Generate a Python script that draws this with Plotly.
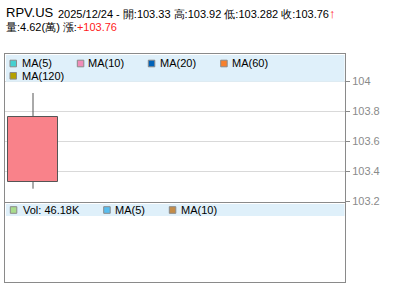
import plotly.graph_objects as go

# ---- data ----
symbol = "RPV.US"
date = "2025/12/24"
open_p = 103.33
high_p = 103.92
low_p = 103.282
close_p = 103.76
vol_wan = 4.62
change = "+103.76"
vol_label = "46.18K"
x_idx = [0]
ma_labels = ["MA(5)", "MA(10)", "MA(20)", "MA(60)", "MA(120)"]
vol_legend_labels = ["Vol: " + vol_label, "MA(5)", "MA(10)"]
price_ticks = [103.2, 103.4, 103.6, 103.8, 104.0]
price_tick_text = ["103.2", "103.4", "103.6", "103.8", "104"]

# ---- layout helpers (pixel -> paper) ----
W, H = 400, 301
ML, MR, MT, MB = 5, 55, 54, 19
PW, PH = W - ML - MR, H - MT - MB


def px(x):
    return (x - ML) / PW


def py(y):
    return (H - MB - y) / PH


FONT = "Liberation Sans, Arial, sans-serif"
BORDER = "#8a8a8a"
FS = 11

fig = go.Figure()

# wick (two segments so the body covers nothing)
fig.add_trace(go.Scatter(
    x=[x_idx[0], x_idx[0], None, x_idx[0], x_idx[0]],
    y=[max(open_p, close_p), high_p, None, min(open_p, close_p), low_p],
    mode="lines", line=dict(color="#555555", width=1),
    hoverinfo="skip", showlegend=False, xaxis="x", yaxis="y"))
# body
fig.add_trace(go.Bar(
    x=x_idx, y=[close_p - open_p], base=[open_p], width=1.0,
    marker=dict(color="#f9828a", line=dict(color="#555555", width=1)),
    hoverinfo="skip", showlegend=False, xaxis="x", yaxis="y"))
# volume panel placeholder (empty)
fig.add_trace(go.Scatter(x=x_idx, y=[0], mode="markers",
                         marker=dict(opacity=0), hoverinfo="skip",
                         showlegend=False, xaxis="x2", yaxis="y2"))

main_top, main_bot = 54, 202
vol_top, vol_bot = 203, 282
y_per_px = 1 / 150.0
yr = [104.0 - (main_bot - 81) * y_per_px, 104.0 + (81 - main_top) * y_per_px]
xr = [-0.56, -0.56 + PW / 50.0]

fig.update_layout(
    width=W, height=H, margin=dict(l=ML, r=MR, t=MT, b=MB),
    paper_bgcolor="white", plot_bgcolor="white",
    font=dict(family=FONT, size=FS, color="black"),
    showlegend=False, bargap=0,
    xaxis=dict(domain=[0, 1], range=xr, showgrid=False, zeroline=False,
               showticklabels=False, ticks="", showline=True, mirror=True,
               linecolor=BORDER, linewidth=1, anchor="y", fixedrange=True),
    yaxis=dict(domain=[py(main_bot), py(main_top)], range=yr, side="right",
               tickvals=price_ticks, ticktext=price_tick_text,
               ticks="outside", ticklen=4, tickcolor=BORDER,
               tickfont=dict(color="#8a8a8a", size=FS, family=FONT),
               showgrid=True, gridcolor="#d9d9d9", gridwidth=1,
               zeroline=False, showline=True, mirror=True,
               linecolor=BORDER, linewidth=1, anchor="x", fixedrange=True),
    xaxis2=dict(domain=[0, 1], range=xr, showgrid=False, zeroline=False,
                showticklabels=False, ticks="", showline=True, mirror=True,
                linecolor=BORDER, linewidth=1, anchor="y2", fixedrange=True),
    yaxis2=dict(domain=[py(vol_bot), py(vol_top)], range=[1, 2],
                showgrid=False, zeroline=False, showticklabels=False,
                ticks="", showline=True, mirror=True, linecolor=BORDER,
                linewidth=1, anchor="x2", fixedrange=True),
)

shapes = []
annotations = []

# legend bands
shapes.append(dict(type="rect", xref="paper", yref="paper", layer="above",
                   x0=px(6), x1=px(344.5), y0=py(55), y1=py(81.7),
                   fillcolor="#dff0fa", line=dict(width=0)))
shapes.append(dict(type="rect", xref="paper", yref="paper", layer="above",
                   x0=px(6), x1=px(344.5), y0=py(204), y1=py(216),
                   fillcolor="#dff0fa", line=dict(width=0)))

ma_colors = ["#44d0d0", "#f08cb8", "#0062b8", "#f8802c", "#b4a000"]
ma_sq_x = [10, 77.3, 148.3, 220.7, 10]
ma_txt_x = [21, 87, 159, 231, 21]
ma_y = [63.5, 63.5, 63.5, 63.5, 75.8]
for lab, c, sx, tx, yy in zip(ma_labels, ma_colors, ma_sq_x, ma_txt_x, ma_y):
    shapes.append(dict(type="rect", xref="paper", yref="paper", layer="above",
                       x0=px(sx), x1=px(sx + 6.5), y0=py(yy - 3.3), y1=py(yy + 3.3),
                       fillcolor=c, line=dict(color=BORDER, width=1)))
    annotations.append(dict(text=lab, xref="paper", yref="paper",
                            x=px(tx - 1), y=py(yy), xanchor="left", yanchor="middle",
                            showarrow=False, font=dict(size=FS, color="black", family=FONT)))

vol_colors = ["#a8dc8c", "#58bef0", "#c48c48"]
vol_sq_x = [10.3, 103.7, 169.3]
vol_txt_x = [22, 114, 180]
for lab, c, sx, tx in zip(vol_legend_labels, vol_colors, vol_sq_x, vol_txt_x):
    yy = 210
    shapes.append(dict(type="rect", xref="paper", yref="paper", layer="above",
                       x0=px(sx), x1=px(sx + 6.5), y0=py(yy - 3.3), y1=py(yy + 3.3),
                       fillcolor=c, line=dict(color=BORDER, width=1)))
    annotations.append(dict(text=lab, xref="paper", yref="paper",
                            x=px(tx - 1), y=py(yy), xanchor="left", yanchor="middle",
                            showarrow=False, font=dict(size=FS, color="black", family=FONT)))

# header text
line1 = (f"{date} - 開:{open_p:g} 高:{high_p:g} 低:{low_p:g} 收:{close_p:g}"
         f"<span style='color:#ff1a1a;font-size:13px'><b>↑</b></span>")
line2 = f"量:{vol_wan:g}(萬) 漲:<span style='color:#ff1a1a'>{change}</span>"
annotations.append(dict(text=symbol, xref="paper", yref="paper",
                        x=px(4), y=py(12.5), xanchor="left", yanchor="middle",
                        showarrow=False, font=dict(size=13, color="black", family=FONT)))
annotations.append(dict(text=line1, xref="paper", yref="paper",
                        x=px(55.5), y=py(13.3), xanchor="left", yanchor="middle",
                        showarrow=False, font=dict(size=FS, color="black", family=FONT)))
annotations.append(dict(text=line2, xref="paper", yref="paper",
                        x=px(4), y=py(26.7), xanchor="left", yanchor="middle",
                        showarrow=False, font=dict(size=FS, color="black", family=FONT)))

fig.update_layout(shapes=shapes, annotations=annotations)
fig.write_html("out.html", config={"displayModeBar": False})
